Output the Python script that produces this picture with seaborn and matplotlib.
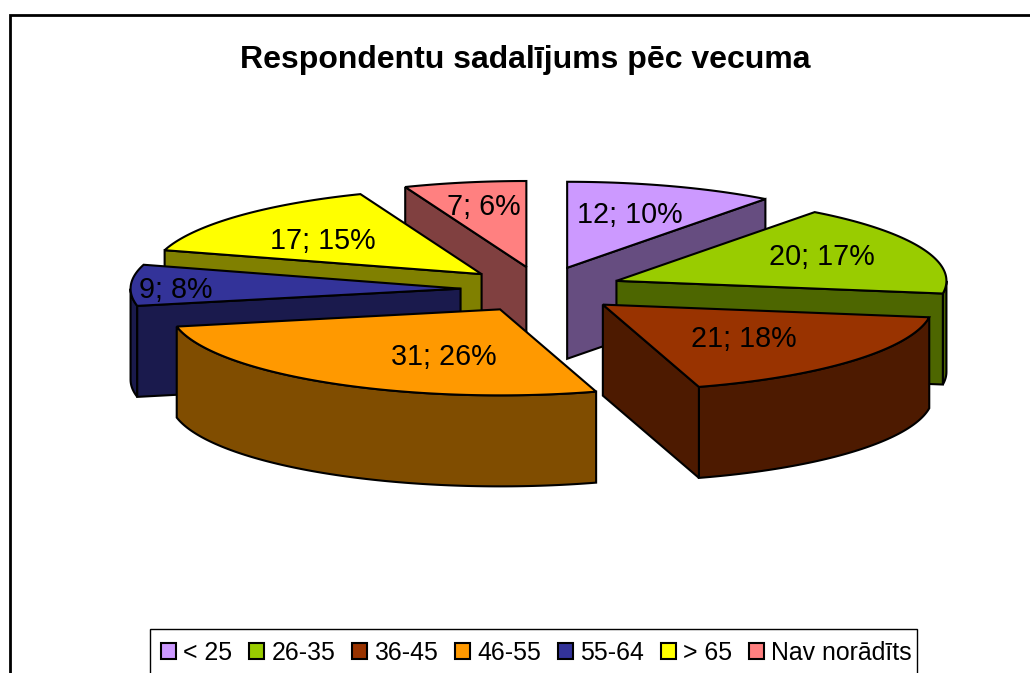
import numpy as np
import matplotlib
matplotlib.use('Agg')
import matplotlib.pyplot as plt
from matplotlib.patches import Polygon, Patch, Rectangle
import seaborn as sns

categories = ['< 25', '26-35', '36-45', '46-55', '55-64', '> 65', 'Nav norādīts']
counts = [12, 20, 21, 31, 9, 17, 7]
colors = ['#CC99FF', '#99CC00', '#993300', '#FF9900', '#333399', '#FFFF00', '#FF8080']
title = 'Respondentu sadalījums pēc vecuma'

# label centres in pixels, same order as categories
label_x = [630, 822, 744, 444, 176, 323, 484]
label_y = [215, 257, 339, 357, 290, 241, 207]

# pie geometry, pixels
cx, cy = 541.5, 289.6
rx, ry = 330, 86
ex, ey = 81, 23
depth = 91
lw = 1.5

sns.set_theme(style='white')
plt.rcParams['font.family'] = ['Liberation Sans', 'DejaVu Sans']
palette = sns.color_palette(colors)

fig = plt.figure(figsize=(10.3, 6.73), dpi=100)
ax = fig.add_axes([0, 0, 1, 1])
ax.set_xlim(0, 1030)
ax.set_ylim(673, 0)
ax.axis('off')

# outer chart frame, only left and top show in the crop
ax.plot([10, 10, 1030], [673, 15, 15], color='black', lw=2, solid_joinstyle='miter')


def rim(x0, y0, a, b):
    t = np.radians(np.linspace(a, b, max(int(abs(b - a)) + 2, 2)))
    return np.column_stack([x0 + rx * np.sin(t), y0 - ry * np.cos(t)])


total = sum(counts)
edges = np.cumsum([0] + counts) / total * 360
slices = []
for i in range(len(counts)):
    a, b = edges[i], edges[i + 1]
    mid = np.radians((a + b) / 2)
    slices.append((cy - ey * np.cos(mid), cx + ex * np.sin(mid), a, b, i))

# back slices first so the front ones cover them
for y0, x0, a, b, i in sorted(slices):
    top = palette[i]
    dark = tuple(c * 0.5 for c in top)
    apex = np.array([[x0, y0]])
    down = np.array([0, depth])

    # outer wall, only the part facing the viewer
    wa, wb = max(a, 90), min(b, 270)
    if wb > wa:
        arc = rim(x0, y0, wa, wb)
        ax.add_patch(Polygon(np.vstack([arc, arc[::-1] + down]), fc=dark, ec='black', lw=lw))

    # cut faces
    if 180 < a < 360:
        p = rim(x0, y0, a, a)[:1]
        ax.add_patch(Polygon(np.vstack([apex, p, p + down, apex + down]), fc=dark, ec='black', lw=lw))
    if 0 < b < 180:
        p = rim(x0, y0, b, b)[:1]
        ax.add_patch(Polygon(np.vstack([apex, p, p + down, apex + down]), fc=dark, ec='black', lw=lw))

    ax.add_patch(Polygon(np.vstack([apex, rim(x0, y0, a, b)]), fc=top, ec='black', lw=lw))

for i, v in enumerate(counts):
    ax.text(label_x[i], label_y[i], f'{v}; {round(v / total * 100)}%', fontsize=20.7,
            ha='center', va='center', color='black')

ax.text(525, 60, title, fontsize=23, fontweight='bold', ha='center', va='center', color='black')

# legend box runs past the bottom of the picture
ax.add_patch(Rectangle((150, 629), 767, 60, fc='white', ec='black', lw=1))
handles = [Patch(fc=palette[i], ec='black', lw=1.5) for i in range(len(counts))]
leg = ax.legend(handles, categories, ncols=7, loc='center', bbox_to_anchor=(536.5, 653),
                bbox_transform=ax.transData, fontsize=17.9, frameon=False, labelcolor='black',
                handlelength=0.6, handleheight=0.6, handletextpad=0.3, columnspacing=0.67,
                borderpad=0, labelspacing=0)

fig.savefig('out.png', dpi=100)
